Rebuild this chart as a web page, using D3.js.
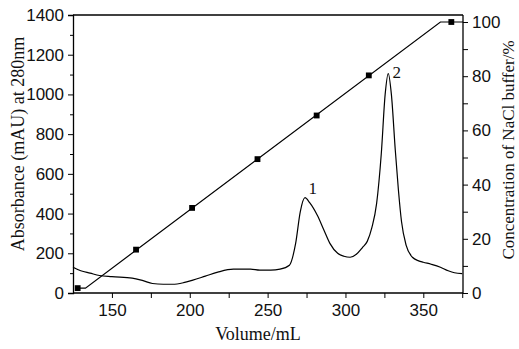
<!DOCTYPE html>
<html>
<head>
<meta charset="utf-8">
<script src="https://cdn.jsdelivr.net/npm/d3@7"></script>
<style>
  body { margin: 0; background: #fff; }
  svg { display: block; font-family: "Liberation Serif", "Times New Roman", serif; }
  .tick-label { font-size: 17px; fill: #111; }
  .axis-title { font-size: 18px; fill: #111; }
</style>
</head>
<body>
<div id="chart"></div>
<script>
// Absorbance trace (mAU) vs elution volume (mL)
const volumes = [125, 130, 136, 142, 150, 163, 170, 176, 183, 189, 196, 202, 210, 218, 228, 239, 245, 252, 258, 264, 268, 271, 274, 277, 282, 286, 290, 295, 299, 303, 307, 311, 314, 317, 320, 323, 325.5, 327.5, 329.5, 332, 334, 336, 339, 343, 347, 350, 355, 361, 366, 370, 375];
const absorbance = [130, 112, 100, 88, 82, 75, 62, 48, 44, 44, 52, 65, 85, 105, 120, 120, 115, 115, 120, 140, 250, 410, 480, 455, 390, 320, 250, 200, 185, 180, 195, 230, 260, 330, 450, 700, 1000, 1105, 1000, 720, 520, 360, 240, 180, 162, 155, 145, 130, 112, 102, 98];

// NaCl gradient (%)
const gradientVolumes = [128, 133, 361, 375.5];
const gradientPercent = [1.8, 1.8, 100, 100];
const markerVolumes = [128, 165.5, 201.5, 243.5, 281.5, 315, 368];
const markerPercent = [1.8, 16, 31.4, 49.4, 65.5, 80.3, 100];

const peakNames = ["1", "2"];
const peakVolumes = [279, 333];
const peakHeights = [530, 1115];

const xTicks = [150, 200, 250, 300, 350];
const leftTicks = [0, 200, 400, 600, 800, 1000, 1200, 1400];
const rightTicks = [0, 20, 40, 60, 80, 100];

const width = 519, height = 349;
const plotLeft = 73, plotRight = 463, plotTop = 15, plotBottom = 293;

const svg = d3.select("#chart").append("svg").attr("width", width).attr("height", height);

const x = d3.scaleLinear().domain([125, 375.5]).range([plotLeft, plotRight]);
const yL = d3.scaleLinear().domain([0, 1400]).range([plotBottom, plotTop]);
const yR = d3.scaleLinear().domain([0, 100]).range([plotBottom, 22]);

// frame
svg.append("line").attr("x1", plotLeft).attr("x2", plotRight).attr("y1", plotTop).attr("y2", plotTop)
  .attr("stroke", "#000").attr("stroke-width", 1.3);

// left axis
const leftAxis = svg.append("g").attr("transform", `translate(${plotLeft},0)`)
  .call(d3.axisLeft(yL).tickValues(d3.range(0, 1401, 100)).tickSize(5).tickFormat(d => leftTicks.includes(d) ? d : ""));
leftAxis.selectAll("text").attr("class", "tick-label").attr("font-family", null).attr("font-size", null).attr("dx", "-1px");
leftAxis.selectAll(".tick line").attr("x2", d => leftTicks.includes(d) ? -5 : -3);

// right axis
const rightAxis = svg.append("g").attr("transform", `translate(${plotRight},0)`)
  .call(d3.axisRight(yR).tickValues(d3.range(0, 101, 10)).tickSize(5).tickFormat(d => rightTicks.includes(d) ? d : ""));
rightAxis.selectAll("text").attr("class", "tick-label").attr("font-family", null).attr("font-size", null).attr("dx", "1px");
rightAxis.select(".domain").attr("d", `M0,${plotTop}V${plotBottom}`);

// bottom axis
const bottomAxis = svg.append("g").attr("transform", `translate(0,${plotBottom})`)
  .call(d3.axisBottom(x).tickValues(d3.range(150, 376, 25)).tickSize(5).tickFormat(d => xTicks.includes(d) ? d : ""));
bottomAxis.selectAll("text").attr("class", "tick-label").attr("font-family", null).attr("font-size", null).attr("dy", "0.9em");
bottomAxis.select(".domain").attr("d", `M${plotLeft},0H${plotRight}`);

svg.selectAll(".domain").attr("stroke-width", 1.3);

// traces
const absLine = d3.line().x((d, i) => x(volumes[i])).y(d => yL(d)).curve(d3.curveMonotoneX);
svg.append("path").datum(absorbance).attr("d", absLine)
  .attr("fill", "none").attr("stroke", "#000").attr("stroke-width", 1.2);

const gradLine = d3.line().x((d, i) => x(gradientVolumes[i])).y(d => yR(d));
svg.append("path").datum(gradientPercent).attr("d", gradLine)
  .attr("fill", "none").attr("stroke", "#000").attr("stroke-width", 1.2);

svg.append("g").selectAll("path")
  .data(markerPercent)
  .join("path")
  .attr("transform", (d, i) => `translate(${x(markerVolumes[i])},${yR(d)})`)
  .attr("d", d3.symbol(d3.symbolSquare, 34))
  .attr("fill", "#000");

svg.append("g").selectAll("text")
  .data(peakNames)
  .join("text")
  .attr("class", "tick-label")
  .attr("x", (d, i) => x(peakVolumes[i]))
  .attr("y", (d, i) => yL(peakHeights[i]))
  .attr("text-anchor", "middle")
  .attr("dy", "0.35em")
  .text(d => d);

// titles
svg.append("text").attr("class", "axis-title")
  .attr("transform", `translate(18,144) rotate(-90)`)
  .attr("text-anchor", "middle").attr("dy", "0.35em")
  .text("Absorbance (mAU) at 280nm");

svg.append("text").attr("class", "axis-title")
  .attr("transform", `translate(508,150) rotate(-90)`)
  .attr("text-anchor", "middle").attr("dy", "0.35em")
  .style("font-size", "17px")
  .text("Concentration of  NaCl buffer/%");

svg.append("text").attr("class", "axis-title")
  .attr("x", 258).attr("y", 334)
  .attr("text-anchor", "middle").attr("dy", "0.35em")
  .text("Volume/mL");
</script>
</body>
</html>
